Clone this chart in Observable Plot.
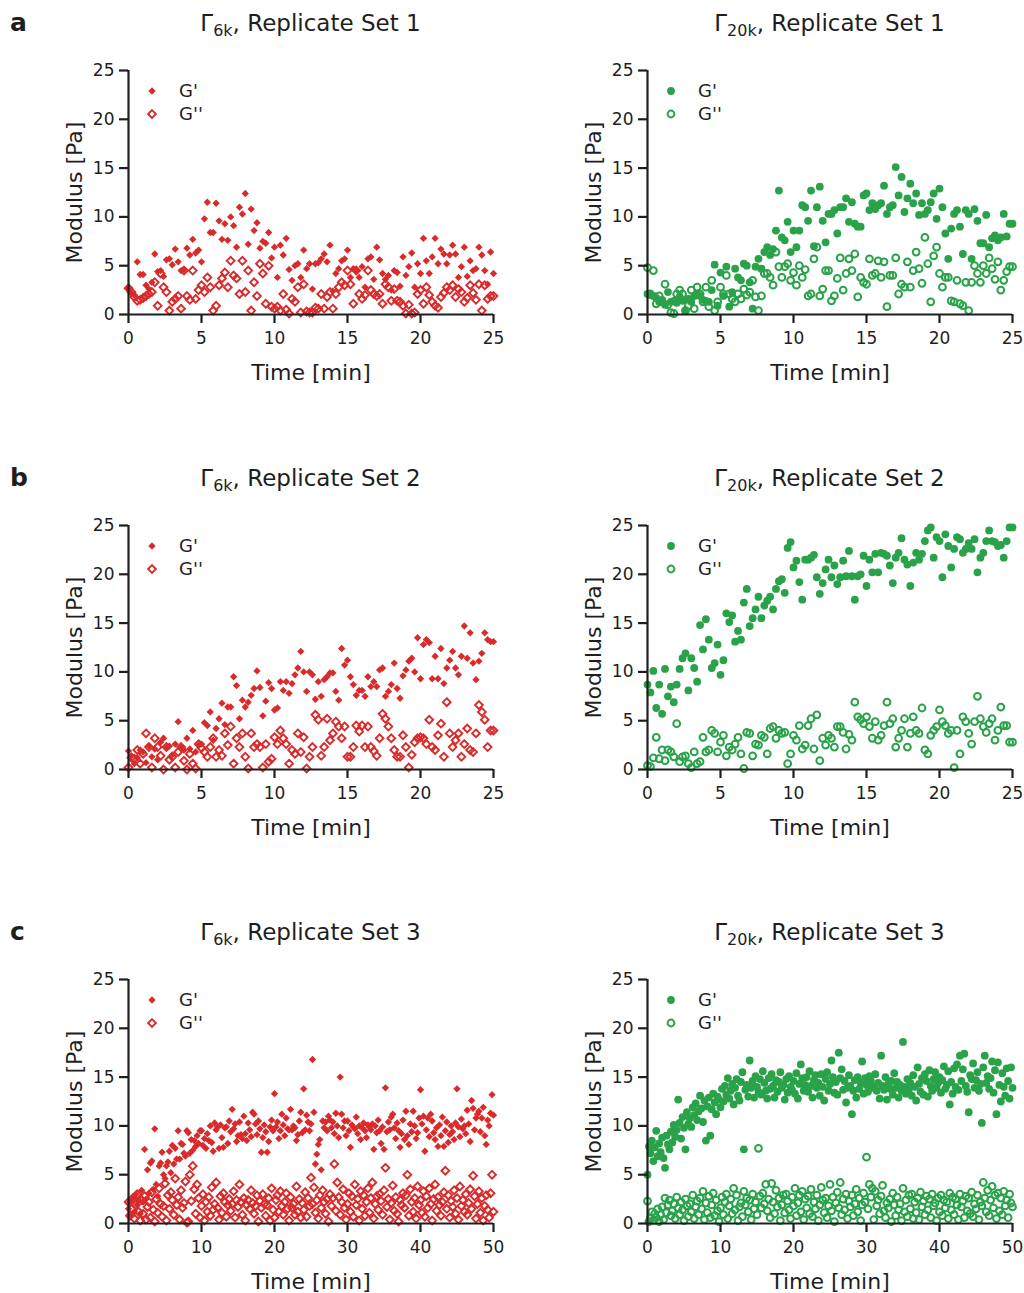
<!DOCTYPE html>
<html>
<head>
<meta charset="utf-8">
<script src="https://cdn.jsdelivr.net/npm/d3@7"></script>
<script src="https://cdn.jsdelivr.net/npm/@observablehq/plot@0.6"></script>
<style>
  body { margin: 0; background: #ffffff; }
  #fig { position: relative; width: 1024px; height: 1293px; overflow: hidden; background: #ffffff;
         font-family: "DejaVu Sans", Verdana, sans-serif; color: #1e1e1e; }
  .panel { position: absolute; }
  .title { position: absolute; width: 440px; text-align: center; font-size: 23px; line-height: 23px; white-space: nowrap; }
  .title .sub { font-size: 16px; position: relative; top: 5px; }
  .letter { position: absolute; font-size: 25px; font-weight: bold; line-height: 25px; }
  .legtext { position: absolute; font-size: 18px; line-height: 18px; white-space: nowrap; }
  .legsym { position: absolute; }
  svg g[aria-label="x-axis label"], svg g[aria-label="y-axis label"] { font-size: 22px; }
</style>
</head>
<body>
<div id="fig"></div>
<script>
// ---------- tick labels ----------
const yTicks = [0, 5, 10, 15, 20, 25];
const ticks25 = [0, 5, 10, 15, 20, 25];
const ticks50 = [0, 10, 20, 30, 40, 50];

// ---------- data (modulus in Pa, evenly sampled in time) ----------
// Row a: Replicate Set 1, 0–25 min
const a6_gp = [
2.7,2.2,2.0,5.4,4.1, 4.1,3.0,2.6,3.3,6.2, 4.4,4.5,3.9,5.6,5.7, 5.1,6.7,5.4,4.5,4.6, 6.8,6.1,7.7,6.3,6.6,
5.4,9.8,11.5,8.4,8.4, 11.4,9.6,7.7,9.3,7.6, 10.0,9.1,6.9,11.0,10.3, 12.4,7.2,10.8,8.6,9.4, 6.8,7.5,7.3,8.4,5.8,
6.9,3.8,7.1,6.1,7.8, 4.6,3.5,5.0,5.2,3.8, 6.6,4.7,5.2,2.6,5.2, 5.3,5.7,6.2,5.4,7.1, 2.4,4.2,4.7,5.5,5.7,
6.6,3.8,4.7,4.5,3.8, 4.9,2.8,5.7,5.9,3.6, 6.9,5.6,4.2,3.6,4.0, 2.5,4.5,4.3,2.9,5.9, 4.0,4.9,6.3,2.8,5.2,
4.2,7.8,5.5,4.2,5.9, 7.8,5.2,6.7,6.2,5.2, 6.1,7.1,6.2,3.8,4.9, 6.9,3.9,5.5,4.5,4.7, 6.9,6.1,4.5,3.1,6.4,
4.2];
const a6_gpp = [
2.7,2.3,1.8,1.4,1.5, 1.7,1.9,2.1,2.3,3.3, 0.9,4.2,2.8,2.3,0.4, 1.3,1.6,1.9,0.6,4.5, 1.9,1.5,4.5,1.6,2.5,
3.0,2.3,3.8,2.8,0.4, 0.9,3.0,3.7,4.3,2.8, 5.5,4.0,3.7,2.1,5.5, 2.3,4.5,0.4,3.3,1.9, 5.2,4.2,1.1,5.0,0.8,
0.6,0.8,0.4,2.1,0.5, 0.1,1.6,1.3,2.8,0.2, 3.1,0.3,0.2,0.2,0.7, 0.6,2.1,0.6,1.8,2.3, 0.6,2.1,2.8,3.3,3.0,
4.5,3.1,1.1,4.5,2.1, 1.6,2.0,4.5,2.5,2.1, 1.9,2.1,1.1,3.1,2.8, 1.4,2.6,1.4,1.3,0.9, 0.1,1.0,0.1,0.2,2.1,
2.5,1.1,2.8,2.0,1.3, 0.9,0.7,1.8,2.2,2.8, 2.5,3.0,1.8,2.6,2.3, 1.3,1.7,3.0,2.2,1.5, 3.1,0.4,3.0,1.6,1.9,
1.9];
const a20_gp = [
2.1,2.0,1.9,1.7,1.3, 1.5,1.0,2.3,1.3,1.4, 1.2,1.8,1.4,0.4,1.6, 1.3,1.9,2.1,1.9,1.5, 1.4,1.3,2.5,5.1,0.9,
4.3,1.9,4.9,0.8,2.3, 4.7,3.8,3.5,5.2,5.0, 3.3,0.6,4.9,5.7,4.7, 6.4,6.9,6.1,6.7,8.6, 12.7,7.9,7.6,9.5,6.4,
8.6,6.9,8.6,11.2,11.0, 9.6,12.7,7.0,11.0,13.1, 9.6,7.4,10.3,10.3,10.7, 8.3,11.0,11.0,11.9,9.5, 11.5,9.3,9.0,9.0,12.2,
12.4,10.7,11.4,10.8,11.2, 11.4,13.2,10.3,11.0,11.2, 15.1,12.2,14.1,10.5,11.9, 13.4,11.4,12.4,10.2,11.4, 10.3,10.7,11.5,12.4,9.8,
12.9,11.0,8.3,5.7,8.8, 10.3,10.7,9.0,6.2,10.7, 10.3,5.7,10.8,9.6,7.3, 7.3,10.2,6.9,7.8,8.1, 7.6,7.9,10.3,8.0,9.3,
9.3];
const a20_gpp = [
4.8,2.1,4.5,1.1,1.9, 1.3,3.1,1.0,0.2,0.1, 2.1,2.5,2.1,0.4,0.9, 2.5,0.6,2.8,2.1,1.3, 2.8,0.8,3.5,0.4,1.3,
2.8,2.1,4.0,2.1,1.6, 1.3,2.1,1.6,2.6,2.0, 2.3,3.5,1.8,0.4,1.9, 4.2,4.2,3.8,3.0,6.4, 4.9,3.8,4.9,5.2,3.5,
4.3,3.0,5.0,3.8,4.6, 1.9,2.1,5.7,6.9,1.9, 2.6,4.5,4.5,1.4,1.9, 3.7,5.8,2.5,4.2,5.7, 4.5,6.2,1.8,3.8,3.3,
3.1,5.7,4.0,4.2,5.5, 3.8,5.4,0.8,4.0,4.0, 5.8,2.1,3.1,2.8,5.4, 2.8,4.5,6.4,4.7,3.2, 7.9,5.2,1.3,6.0,6.9,
4.2,2.8,3.8,3.8,1.4, 1.3,3.5,1.1,0.9,3.3, 0.4,3.3,5.0,4.2,3.3, 5.0,4.2,5.8,4.7,3.6, 5.4,2.5,3.5,4.4,4.9,
4.9];

// Row b: Replicate Set 2, 0–25 min
const b6_gp = [
1.9,1.4,0.6,1.2,2.0, 1.8,0.7,2.4,1.3,2.1, 1.0,2.8,3.2,2.2,2.4, 1.5,2.6,4.9,2.3,2.0, 3.2,2.1,4.0,1.8,2.5,
2.6,4.8,4.5,5.9,3.0, 4.2,5.2,6.8,4.6,6.4, 6.4,9.5,8.6,5.2,7.1, 6.4,6.9,7.6,8.3,10.1, 8.4,5.5,7.0,8.9,8.3,
6.1,6.3,9.0,8.1,9.0, 7.8,8.8,9.7,10.4,12.1, 10.0,8.0,10.0,9.7,7.2, 9.0,7.5,9.2,9.5,9.9, 9.9,8.0,7.1,12.4,10.7,
11.2,9.5,8.7,7.6,8.1, 8.1,7.5,9.5,8.5,9.0, 8.5,10.2,10.4,7.5,8.0, 8.7,10.9,8.3,7.3,9.6, 10.2,11.1,11.4,10.0,13.5,
9.3,12.8,13.3,13.0,9.3, 11.6,9.3,12.4,8.8,10.4, 11.2,12.1,10.4,9.7,11.6, 14.7,11.4,14.0,10.9,9.2, 11.1,11.9,14.0,13.3,13.1,
13.1];
const b6_gpp = [
0.2,1.2,1.1,2.0,0.6, 1.6,3.7,2.3,0.2,3.2, 2.3,1.4,0.0,2.3,1.0, 1.3,0.2,1.8,2.3,0.9, 0.0,1.6,0.6,0.1,2.6,
2.2,1.8,1.3,2.3,3.2, 1.3,2.0,1.4,3.7,2.5, 4.4,0.6,3.2,2.3,3.7, 1.3,0.1,3.7,2.3,2.6, 2.3,0.2,2.6,0.8,1.1,
3.3,2.6,4.0,3.2,2.6, 0.6,2.0,1.6,3.7,1.8, 3.3,0.1,1.3,2.3,5.6, 5.1,1.4,2.3,5.2,3.0, 3.7,4.9,4.4,3.2,4.4,
1.3,1.3,2.3,4.5,3.9, 4.5,2.3,4.4,2.3,1.9, 1.4,3.2,5.7,5.2,4.4, 3.2,2.0,1.3,1.3,3.5, 2.3,0.2,1.5,2.8,3.2,
3.3,3.2,2.6,5.1,2.3, 2.0,3.5,4.7,1.3,6.9, 3.7,2.3,3.0,3.7,1.3, 2.6,4.2,2.0,1.8,3.7, 6.6,5.9,5.1,2.3,4.0,
4.0];
const b20_gp = [
8.7,7.9,10.1,6.3,8.7, 5.7,10.3,7.5,8.5,6.9, 8.7,10.3,11.4,11.9,8.1, 11.4,10.4,9.0,14.8,12.3, 15.4,13.3,10.4,10.9,12.8,
9.7,11.2,16.0,15.1,15.8, 13.1,14.2,13.3,17.1,18.5, 14.7,15.5,16.4,17.7,15.5, 16.8,17.3,17.7,16.4,18.5, 19.3,19.5,18.1,22.7,23.3,
20.7,21.4,19.2,17.4,21.5, 21.5,21.7,22.0,19.7,18.0, 19.1,20.5,21.5,19.7,20.9, 19.0,19.7,21.4,19.8,22.4, 19.8,17.4,19.8,20.0,21.9,
18.8,21.5,20.2,22.1,20.2, 22.2,22.1,21.9,20.9,19.1, 21.7,22.2,23.7,21.5,21.0, 18.8,21.2,22.2,21.5,22.1, 23.4,24.5,24.8,21.7,23.8,
23.4,19.7,24.1,22.9,20.7, 22.6,23.8,23.6,22.2,22.6, 23.2,22.6,23.6,20.2,21.7, 22.2,23.4,24.5,23.4,23.3, 22.9,23.0,21.7,23.4,24.8,
24.8];
const b20_gpp = [
0.4,0.3,1.2,3.3,1.1, 2.0,0.9,2.0,1.8,1.3, 4.7,0.8,1.3,1.4,0.6, 0.2,1.8,0.6,0.8,3.3, 1.8,2.0,4.0,3.7,1.8,
2.8,3.5,1.4,2.3,2.0, 2.6,3.3,1.6,0.1,3.8, 3.7,1.4,2.6,2.5,3.5, 3.3,1.6,4.2,4.4,3.2, 4.0,3.7,3.8,0.6,1.6,
3.5,3.0,4.5,2.1,2.5, 4.5,5.2,2.1,5.6,0.9, 3.2,2.5,3.5,3.2,2.3, 4.4,4.4,3.8,2.1,3.6, 3.0,6.9,5.4,5.1,4.7,
5.4,4.4,3.2,4.9,3.0, 3.5,4.5,6.9,4.7,5.2, 2.3,3.2,4.0,5.2,2.3, 3.7,5.4,4.0,3.7,6.3, 2.0,1.6,3.5,4.0,4.4,
6.1,4.9,4.5,3.7,4.0, 0.2,4.0,1.6,5.4,4.9, 3.7,2.6,4.9,7.5,5.2, 4.4,3.8,4.7,5.2,3.0, 4.0,6.4,4.5,4.5,2.8,
2.8];

// Row c: Replicate Set 3, 0–50 min
const c6_gp = [
1.5,2.2,0.8,2.6,1.2, 3.0,1.9,2.4,1.0,3.4, 2.2,7.6,2.5,5.5,3.1, 6.2,6.4,3.5,9.7,4.0, 2.8,5.9,6.2,7.3,5.0,
4.6,5.9,6.3,7.4,5.2, 8.0,6.1,7.7,6.6,9.5, 6.6,8.2,8.1,7.2,6.9, 9.5,9.3,7.2,8.6,7.5, 8.5,7.9,9.0,8.2,9.5,
9.5,8.0,8.7,7.7,9.2, 8.5,10.0,8.3,7.4,10.3, 9.6,9.9,7.7,10.1,8.8, 7.8,9.8,9.9,8.2,10.5, 9.4,11.7,9.7,10.2,8.4,
9.0,10.4,9.1,8.7,11.0, 9.2,8.5,10.3,9.6,8.9, 11.4,11.2,10.2,9.1,10.5, 9.7,7.3,8.8,10.1,9.4, 7.3,8.4,9.9,10.6,9.5,
13.3,9.9,10.4,8.7,9.5, 11.2,10.1,9.0,10.8,9.7, 9.6,11.7,9.6,10.0,9.8, 8.5,9.1,10.5,11.4,9.3, 13.8,9.6,11.1,10.4,9.5,
10.2,16.8,11.4,6.1,7.1, 8.1,8.6,5.5,10.5,9.8, 10.4,9.5,11.0,10.6,9.8, 10.4,9.2,11.3,10.0,8.8, 15.0,11.2,9.8,10.5,9.0,
10.5,9.5,7.8,10.1,9.9, 9.7,10.9,9.2,10.0,8.6, 9.8,10.3,9.5,8.8,10.1, 9.9,9.6,10.2,7.6,10.0, 9.3,10.6,9.5,8.2,9.9,
7.6,13.9,9.4,10.4,9.6, 10.9,11.2,9.8,8.7,10.3, 9.5,7.8,9.2,10.6,8.6, 11.5,9.0,8.1,10.2,9.4, 11.5,10.0,8.7,9.3,10.8,
13.7,10.2,11.0,7.4,9.6, 10.8,8.9,11.2,10.5,9.3, 8.6,9.8,7.9,10.1,9.0, 10.9,7.9,9.5,10.4,8.3, 9.1,10.0,9.4,8.6,10.3,
13.8,9.9,8.9,10.7,9.7, 10.0,9.2,11.6,10.2,8.4, 12.6,11.8,9.6,10.8,11.2, 11.5,9.4,10.8,11.9,9.0, 8.1,10.6,10.0,11.3,13.2,
11.1];
const c6_gpp = [
2.2,0.8,1.5,2.6,0.5, 1.9,3.0,1.2,0.3,2.4, 1.0,2.8,0.4,1.7,2.2, 0.6,3.2,1.4,0.2,2.5, 1.1,3.6,2.0,0.7,1.8,
4.1,0.3,2.9,1.5,3.2, 2.4,0.9,4.6,1.9,2.7, 0.4,3.4,1.6,2.1,4.3, 0.1,0.2,5.0,2.3,5.9, 3.5,1.0,4.0,2.6,0.6,
1.8,3.0,0.3,2.2,1.2, 2.7,0.8,3.7,1.4,2.0, 4.2,1.6,0.4,2.8,1.1, 3.1,2.2,0.7,1.9,2.5, 1.3,2.0,3.3,0.6,2.4,
1.7,4.0,2.2,0.9,2.6, 0.3,1.9,2.4,1.5,3.4, 2.1,1.0,1.8,2.9,0.2, 2.3,1.6,3.0,2.0,0.8, 1.9,2.6,0.3,3.6,1.4,
0.6,2.4,2.9,1.2,3.3, 1.8,0.9,2.2,3.1,1.5, 0.3,2.7,1.6,2.0,0.9, 3.8,1.2,2.5,0.6,2.1, 1.4,3.2,0.7,2.6,1.8,
4.7,2.0,3.7,1.1,2.4, 0.5,2.9,1.6,3.4,2.2, 1.0,2.5,0.2,3.0,1.8, 2.6,6.1,1.3,4.2,2.7, 0.9,2.2,3.5,1.6,0.4,
2.0,3.1,1.2,2.8,0.7, 4.0,1.9,2.5,0.3,3.3, 1.5,2.9,0.8,2.2,3.6, 1.1,2.6,4.2,0.5,2.0, 2.8,1.4,3.0,2.3,0.9,
3.4,5.7,1.7,2.5,0.4, 2.1,3.9,1.3,2.7,1.0, 0.2,2.4,1.9,3.1,1.6, 2.9,5.0,0.8,3.5,2.2, 1.2,2.6,0.5,3.8,1.9,
2.4,1.1,3.3,0.7,2.8, 1.6,3.6,2.0,0.3,2.5, 4.0,1.3,2.7,1.9,0.8, 2.2,3.2,5.4,1.5,2.9, 0.6,2.3,1.7,3.4,1.0,
2.6,0.4,3.8,1.8,2.4, 1.2,3.0,0.9,2.1,3.5, 1.5,4.9,2.8,0.5,2.0, 3.3,1.1,2.6,0.3,1.8, 2.9,1.4,0.6,3.1,5.0,
1.2];
const c20_gp = [
5.0,7.9,7.2,8.5,6.4, 7.8,9.5,6.9,8.2,7.3, 8.8,6.7,5.7,9.0,8.1, 7.6,9.4,8.3,10.1,8.9, 9.6,12.7,10.3,8.7,10.9,
9.8,7.6,11.4,10.2,10.8, 9.9,11.9,11.1,12.3,10.6, 11.5,13.1,11.8,10.4,12.6, 8.5,12.0,12.9,9.0,11.7, 13.3,12.4,11.2,13.0,12.7,
11.9,13.8,12.5,14.1,13.2, 14.9,12.8,13.6,14.3,12.2, 13.9,14.8,13.1,12.6,14.5, 15.5,7.6,13.7,14.2,13.0, 16.7,13.9,14.6,12.9,15.1,
14.0,13.5,14.8,13.2,15.6, 14.4,13.6,12.8,14.9,13.8, 15.3,14.1,12.9,14.7,13.5, 14.5,15.5,13.9,14.2,12.7, 14.8,13.4,15.1,14.0,13.7,
14.6,13.3,15.4,12.8,14.3, 16.3,14.9,13.6,14.2,15.0, 13.5,15.6,14.1,12.9,14.7, 15.2,13.9,14.4,13.1,15.3, 14.0,12.6,14.8,15.5,13.6,
14.3,16.7,15.0,13.4,14.5, 13.2,17.5,14.9,15.8,13.7, 14.6,12.4,13.9,15.2,14.1, 11.2,13.6,14.7,12.9,15.0, 13.8,14.4,16.6,13.3,14.9,
14.2,13.5,15.1,14.6,13.9, 14.0,15.3,13.6,14.4,12.8, 17.2,14.1,13.7,15.0,12.7, 14.3,13.8,14.6,13.2,15.4, 13.9,14.5,12.9,14.2,13.6,
18.6,14.0,13.3,14.8,13.7, 14.4,13.1,15.2,14.0,12.6, 16.0,14.3,13.5,14.9,13.2, 15.3,14.6,13.0,15.7,14.1, 13.6,14.8,15.5,13.9,14.4,
15.0,13.4,14.7,16.1,13.8, 14.2,15.6,12.2,14.5,13.3, 15.9,14.0,16.3,13.7,17.2, 14.6,15.8,17.4,14.1,13.5, 11.4,15.2,14.8,16.4,13.9,
14.7,15.5,13.6,14.3,10.3, 16.0,17.2,14.4,15.1,13.8, 14.9,16.6,13.4,15.7,11.2, 16.5,14.2,12.5,15.4,14.0, 13.1,15.9,14.6,12.8,16.0,
13.9];
const c20_gpp = [
2.3,0.2,0.5,1.2,0.3, 1.0,0.6,1.5,0.2,0.9, 1.7,0.4,2.6,1.1,1.9, 2.4,0.8,1.3,2.0,0.5, 2.7,1.6,0.9,2.2,1.4,
0.3,2.5,1.8,0.7,2.0, 1.2,2.9,0.5,1.7,2.3, 0.9,2.6,1.5,3.3,0.4, 2.1,1.1,2.8,0.6,1.9, 3.1,0.8,2.4,1.3,0.2,
1.6,2.7,0.9,2.2,3.0, 0.5,1.8,2.5,1.0,3.6, 1.4,2.9,0.3,1.7,2.1, 0.7,3.3,1.9,2.6,1.2, 2.4,0.4,3.0,1.5,2.2,
0.9,7.7,2.8,1.6,3.1, 2.0,4.0,1.3,2.5,0.6, 4.1,2.2,1.0,3.4,1.7, 2.6,0.3,1.9,2.9,1.1, 3.0,2.3,1.4,0.5,2.7,
1.8,3.6,0.8,2.1,2.9, 1.2,3.3,0.4,2.5,1.6, 2.8,1.0,3.5,0.7,2.2, 1.5,2.9,0.3,1.9,3.7, 2.4,1.1,2.6,0.6,1.8,
4.0,1.3,2.7,0.2,2.1, 3.2,1.6,4.2,0.9,2.5, 1.4,3.0,0.5,2.3,1.7, 2.9,0.8,2.0,3.5,1.2, 2.6,0.3,1.9,3.1,2.2,
6.8,1.5,4.0,2.7,3.6, 0.4,3.3,1.8,2.4,1.0, 2.8,3.9,1.3,0.6,2.1, 1.6,2.5,0.2,3.1,1.9, 0.8,2.7,1.4,2.0,0.3,
3.6,1.2,2.4,0.7,2.9, 1.5,3.0,0.5,2.2,1.1, 2.6,0.4,3.2,1.7,2.3, 0.9,2.8,1.4,2.5,0.6, 3.0,1.8,2.1,0.3,2.6,
1.2,2.9,0.8,2.4,1.6, 2.2,0.5,3.1,1.4,2.7, 0.9,2.5,1.9,0.4,3.0, 1.7,2.3,0.6,2.8,1.3, 2.6,1.0,3.2,0.7,2.0,
1.5,2.9,0.4,2.2,1.8, 4.2,2.6,1.2,3.4,0.8, 2.4,3.8,1.6,2.9,0.5, 3.1,1.3,2.6,0.9,3.3, 1.8,2.4,0.6,3.0,2.1,
1.7];

// ---------- panel definitions ----------
const red = "#d92b2b", green = "#2aa24a";
const panels = [
  {row: 0, col: 0, letter: "a", sub: "6k",  set: 1, gp: a6_gp,  gpp: a6_gpp,  duration: 25, ticks: ticks25, color: red,   kind: "diamond"},
  {row: 0, col: 1, letter: null, sub: "20k", set: 1, gp: a20_gp, gpp: a20_gpp, duration: 25, ticks: ticks25, color: green, kind: "circle"},
  {row: 1, col: 0, letter: "b", sub: "6k",  set: 2, gp: b6_gp,  gpp: b6_gpp,  duration: 25, ticks: ticks25, color: red,   kind: "diamond"},
  {row: 1, col: 1, letter: null, sub: "20k", set: 2, gp: b20_gp, gpp: b20_gpp, duration: 25, ticks: ticks25, color: green, kind: "circle"},
  {row: 2, col: 0, letter: "c", sub: "6k",  set: 3, gp: c6_gp,  gpp: c6_gpp,  duration: 50, ticks: ticks50, color: red,   kind: "diamond"},
  {row: 2, col: 1, letter: null, sub: "20k", set: 3, gp: c20_gp, gpp: c20_gpp, duration: 50, ticks: ticks50, color: green, kind: "circle"}
];

// ---------- layout ----------
const W = 512, H = 400;
const rowTop = [0, 455, 909];
const colLeft = [0, 512];
const mLeft = [128, 135], mRight = [19, 12], mTop = 70, mBottom = 86;
const markerStyle = {
  diamond: {symbol: "diamond2", rFill: 3.3, rOpen: 3.5, sw: 1.9},
  circle:  {symbol: "circle",   rFill: 3.9, rOpen: 3.4, sw: 2.0}
};
const fig = document.getElementById("fig");

function series(values, duration) {
  const step = duration / (values.length - 1);
  return values.map((v, i) => ({t: i * step, v}));
}

function symbolPath(kind, r) {
  const sym = kind === "diamond" ? d3.symbolDiamond2 : d3.symbolCircle;
  return d3.symbol(sym, Math.PI * r * r)();
}

for (const p of panels) {
  const ms = markerStyle[p.kind];
  const left = colLeft[p.col], top = rowTop[p.row];
  const ml = mLeft[p.col], mr = mRight[p.col];

  const chart = Plot.plot({
    width: W, height: H,
    marginLeft: ml, marginRight: mr, marginTop: mTop, marginBottom: mBottom,
    style: {fontFamily: "'DejaVu Sans', Verdana, sans-serif", fontSize: "17px", color: "#1e1e1e", background: "transparent", overflow: "visible"},
    x: {domain: [0, p.duration]},
    y: {domain: [0, 25]},
    marks: [
      Plot.dot(series(p.gp, p.duration), {x: "t", y: "v", symbol: ms.symbol, fill: p.color, stroke: "none", r: ms.rFill}),
      Plot.dot(series(p.gpp, p.duration), {x: "t", y: "v", symbol: ms.symbol, fill: "none", stroke: p.color, strokeWidth: ms.sw, r: ms.rOpen}),
      Plot.axisX({ticks: p.ticks, tickSize: 9, tickPadding: 8, strokeWidth: 2.2, tickFormat: d => String(d),
                  label: "Time [min]", labelAnchor: "center", labelOffset: 65, labelArrow: "none"}),
      Plot.axisY({ticks: yTicks, tickSize: 9, tickPadding: 5, strokeWidth: 2.2, tickFormat: d => String(d),
                  label: "Modulus [Pa]", labelAnchor: "center", labelOffset: 62, labelArrow: "none"}),
      Plot.ruleX([0], {strokeWidth: 2.2}),
      Plot.ruleY([0], {strokeWidth: 2.2})
    ]
  });
  const holder = document.createElement("div");
  holder.className = "panel";
  holder.style.left = left + "px";
  holder.style.top = top + "px";
  holder.appendChild(chart);
  fig.appendChild(holder);

  const areaLeft = left + ml, areaRight = left + W - mr, areaTop = top + mTop;
  const cx = (areaLeft + areaRight) / 2;

  // title
  const title = document.createElement("div");
  title.className = "title";
  title.style.left = (cx - 220) + "px";
  title.style.top = (top + 12) + "px";
  title.innerHTML = "Γ<span class=\"sub\">" + p.sub + "</span>, Replicate Set " + p.set;
  fig.appendChild(title);

  // panel letter
  if (p.letter) {
    const letter = document.createElement("div");
    letter.className = "letter";
    letter.style.left = "10px";
    letter.style.top = (top + 10) + "px";
    letter.textContent = p.letter;
    fig.appendChild(letter);
  }

  // legend
  const entries = [
    {label: "G'", filled: true, r: ms.rFill},
    {label: "G''", filled: false, r: ms.rOpen}
  ];
  entries.forEach((e, i) => {
    const cy = areaTop + 21 + i * 23;
    const sx = areaLeft + 24;
    const svg = d3.create("svg").attr("class", "legsym").attr("width", 16).attr("height", 16)
      .style("left", (sx - 8) + "px").style("top", (cy - 8) + "px");
    svg.append("path").attr("transform", "translate(8,8)").attr("d", symbolPath(p.kind, e.r))
      .attr("fill", e.filled ? p.color : "none")
      .attr("stroke", e.filled ? "none" : p.color)
      .attr("stroke-width", e.filled ? 0 : ms.sw);
    fig.appendChild(svg.node());
    const t = document.createElement("div");
    t.className = "legtext";
    t.style.left = (areaLeft + 51) + "px";
    t.style.top = (cy - 9) + "px";
    t.textContent = e.label;
    fig.appendChild(t);
  });
}
</script>
</body>
</html>
